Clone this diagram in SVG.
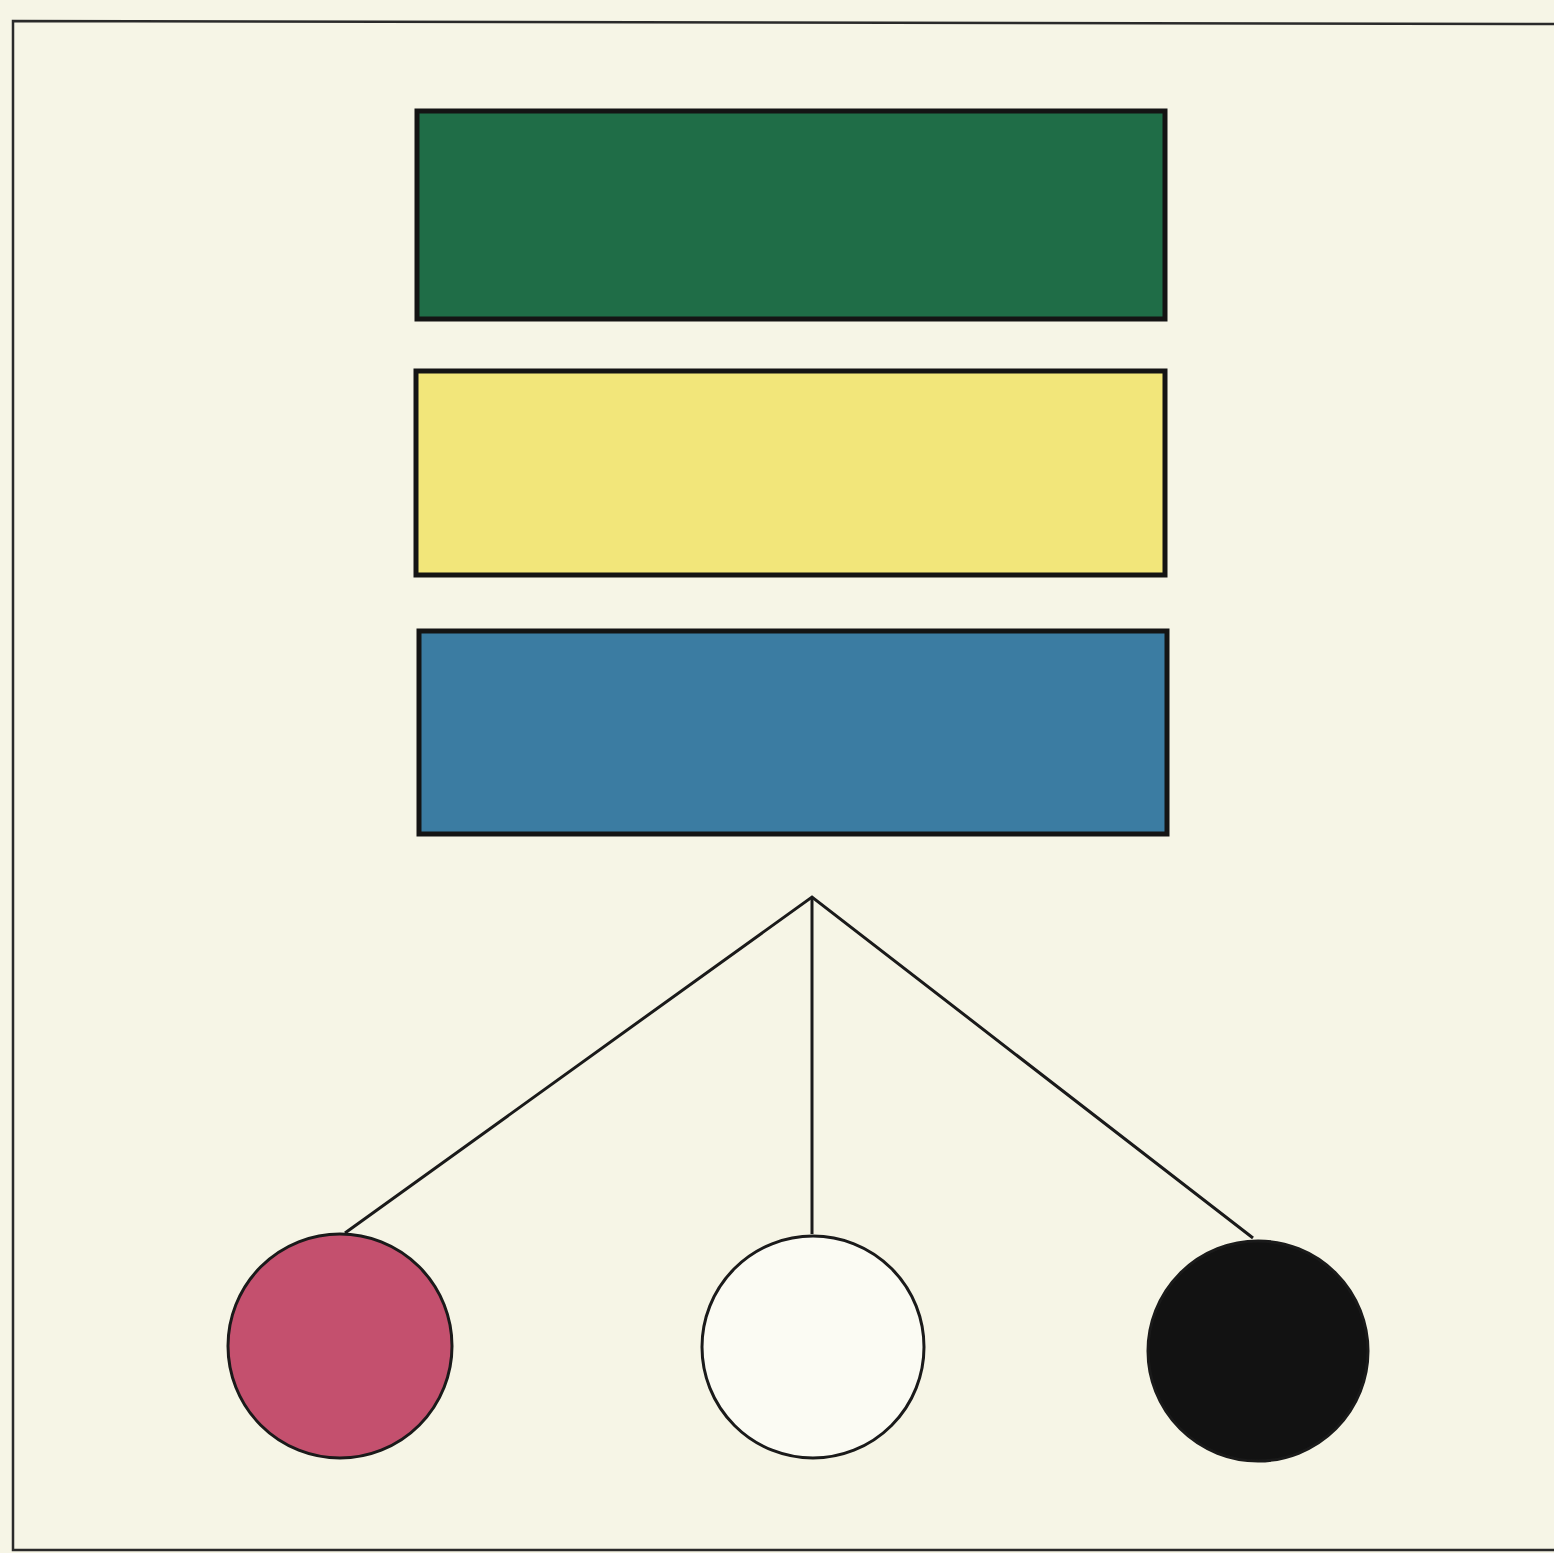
<svg xmlns="http://www.w3.org/2000/svg" width="1554" height="1553" viewBox="0 0 1554 1553">
<style>
.bar{stroke:#141414;stroke-width:5}
.ln{stroke:#1a1a1a;stroke-width:3;fill:none}
.dot{stroke:#1a1a1a;stroke-width:3}
</style>
<rect width="1554" height="1553" fill="#f6f5e6"/>
<path d="M1554 24 L13 21 L13 1550 L1554 1550" fill="none" stroke="#2a2a2a" stroke-width="2.5"/>
<g id="bar-green"><rect class="bar" x="417" y="111" width="748" height="208" fill="#1f6d47" stroke-width="6"/></g>
<g id="bar-yellow"><rect class="bar" x="416" y="371" width="749" height="204" fill="#f2e67a" stroke-width="3"/></g>
<g id="bar-blue"><rect class="bar" x="419" y="631" width="748" height="203" fill="#3b7ca2" stroke-width="5"/></g>
<g id="connectors">
<path class="ln" d="M345 1233 L812 897 L1253 1238"/>
<path class="ln" d="M812 897 L812 1234"/>
</g>
<g id="circle-pink"><circle class="dot" cx="340" cy="1346" r="112" fill="#c4506e"/></g>
<g id="circle-white"><circle class="dot" cx="813" cy="1347" r="111" fill="#fbfbf3"/></g>
<g id="circle-black"><circle class="dot" cx="1258" cy="1351" r="110" fill="#121212"/></g>
</svg>
